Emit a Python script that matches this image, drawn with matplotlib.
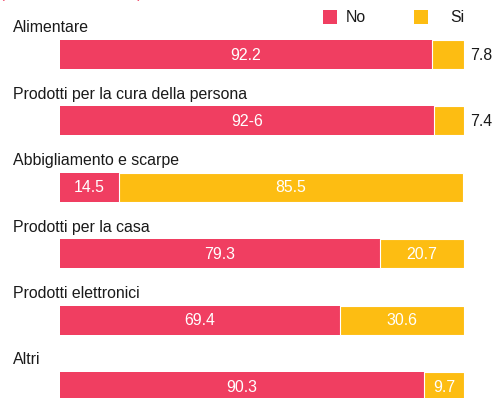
import matplotlib
matplotlib.use("Agg")
import matplotlib.pyplot as plt
from matplotlib.patches import Rectangle

# Data
categories = [
    "Alimentare",
    "Prodotti per la cura della persona",
    "Abbigliamento e scarpe",
    "Prodotti per la casa",
    "Prodotti elettronici",
    "Altri",
]
no_values = [92.2, 92.6, 14.5, 79.3, 69.4, 90.3]
si_values = [7.8, 7.4, 85.5, 20.7, 30.6, 9.7]
no_text = ["92.2", "92-6", "14.5", "79.3", "69.4", "90.3"]
si_text = ["7.8", "7.4", "85.5", "20.7", "30.6", "9.7"]
series_names = ["No", "Si"]

RED = "#F03E61"
YELLOW = "#FDBD12"
DARK = "#1a1a1a"

plt.rcParams["font.family"] = ["Liberation Sans", "DejaVu Sans"]

W, H = 495, 398
fig = plt.figure(figsize=(W / 100, H / 100), dpi=100)
fig.patch.set_facecolor("white")

# Axes spans the full height; x from bar start to bar end
left_px, right_px = 60, 463.5
ax = fig.add_axes([left_px / W, 0, (right_px - left_px) / W, 1])
step_px = 66.4
first_center_px = 54.5
ax.set_ylim((H - first_center_px) / step_px, -first_center_px / step_px)
ax.set_xlim(0, 100)
ax.axis("off")

bar_h = 29 / step_px
ypos = list(range(len(categories)))

ax.barh(ypos, no_values, height=bar_h, color=RED, linewidth=0)
ax.barh(ypos, si_values, left=no_values, height=bar_h, color=YELLOW,
        edgecolor="white", linewidth=0.8)

fs = 11.4
label_x = (13 - left_px) / (right_px - left_px) * 100
for i, cat in enumerate(categories):
    ax.text(label_x, i - 0.40, cat, ha="left", va="center", fontsize=fs,
            color=DARK, clip_on=False)
    n, s = no_values[i], si_values[i]
    ax.text(n / 2, i + 0.01, no_text[i], ha="center", va="center",
            fontsize=fs, color="white")
    if s < 9:
        ax.text(101.6, i + 0.01, si_text[i], ha="left", va="center",
                fontsize=fs, color=DARK, clip_on=False)
    else:
        ax.text(n + s / 2, i + 0.01, si_text[i], ha="center", va="center",
                fontsize=fs, color="white")

# Legend
sq = 14
for (x0, tx), name, col in zip([(323, 346), (414, 450)], series_names, [RED, YELLOW]):
    fig.patches.append(Rectangle((x0 / W, 1 - 24 / H), sq / W, sq / H,
                                 transform=fig.transFigure, color=col, linewidth=0))
    fig.text(tx / W, 1 - 17.5 / H, name, ha="left", va="center",
             fontsize=fs, color=DARK)

# Subtitle running off the top edge
fig.text(0 / W, 1 + 2.2 / H, "(valori in % sul totale)", ha="left",
         va="baseline", fontsize=10.6, color=RED)

fig.savefig("out.png", dpi=100, facecolor="white")
